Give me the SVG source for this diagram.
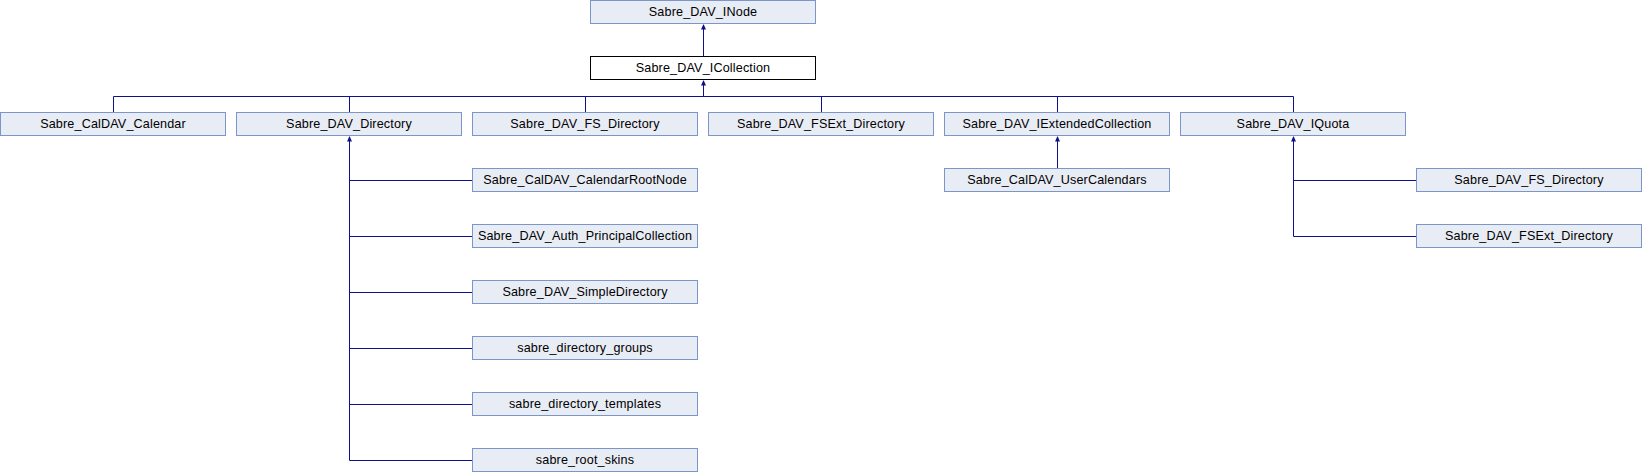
<svg xmlns="http://www.w3.org/2000/svg" xmlns:xlink="http://www.w3.org/1999/xlink" width="1642" height="472" viewBox="0 0 1642 472">
<style>
.n rect{fill:#E8ECF5;stroke:#7C96CA;stroke-width:1}
.n.cur rect{fill:#FFFFFF;stroke:#000000}
.n text{font-family:"Liberation Sans",Arial,sans-serif;font-size:12.6px;letter-spacing:0.15px;fill:#000000;text-anchor:middle}
.e path{fill:none;stroke:#10108C;stroke-width:1}
.e use{fill:#10108C;stroke:none}
</style>
<defs>
<path id="ah" d="M0,0 L-2.5,5.5 L2.5,5.5 Z"/>
</defs>
<rect width="1642" height="472" fill="#FFFFFF"/>
<g id="connectors" class="e">
<path d="M703.5,56.5 V26"/>
<use xlink:href="#ah" x="703.5" y="24"/>
<path d="M703.5,96.5 V82"/>
<use xlink:href="#ah" x="703.5" y="80"/>
<path d="M113.5,112.5 V96.5 H1293.5 V112.5"/>
<path d="M349.5,96.5 V112.5 M585.5,96.5 V112.5 M821.5,96.5 V112.5 M1057.5,96.5 V112.5"/>
<path d="M349.5,138 V460.5 H472.5 M349.5,180.5 H472.5 M349.5,236.5 H472.5 M349.5,292.5 H472.5 M349.5,348.5 H472.5 M349.5,404.5 H472.5"/>
<use xlink:href="#ah" x="349.5" y="136"/>
<path d="M1057.5,168.5 V138"/>
<use xlink:href="#ah" x="1057.5" y="136"/>
<path d="M1293.5,138 V236.5 H1416.5 M1293.5,180.5 H1416.5"/>
<use xlink:href="#ah" x="1293.5" y="136"/>
</g>
<g id="n_inode" class="n"><rect x="590.5" y="0.5" width="225" height="23"/><text x="703" y="16">Sabre_DAV_INode</text></g>
<g id="n_icollection" class="n cur"><rect x="590.5" y="56.5" width="225" height="23"/><text x="703" y="72">Sabre_DAV_ICollection</text></g>
<g id="n_caldav_calendar" class="n"><rect x="0.5" y="112.5" width="225" height="23"/><text x="113" y="128">Sabre_CalDAV_Calendar</text></g>
<g id="n_dav_directory" class="n"><rect x="236.5" y="112.5" width="225" height="23"/><text x="349" y="128">Sabre_DAV_Directory</text></g>
<g id="n_fs_directory" class="n"><rect x="472.5" y="112.5" width="225" height="23"/><text x="585" y="128">Sabre_DAV_FS_Directory</text></g>
<g id="n_fsext_directory" class="n"><rect x="708.5" y="112.5" width="225" height="23"/><text x="821" y="128">Sabre_DAV_FSExt_Directory</text></g>
<g id="n_iextendedcollection" class="n"><rect x="944.5" y="112.5" width="225" height="23"/><text x="1057" y="128">Sabre_DAV_IExtendedCollection</text></g>
<g id="n_iquota" class="n"><rect x="1180.5" y="112.5" width="225" height="23"/><text x="1293" y="128">Sabre_DAV_IQuota</text></g>
<g id="n_calendarrootnode" class="n"><rect x="472.5" y="168.5" width="225" height="23"/><text x="585" y="184">Sabre_CalDAV_CalendarRootNode</text></g>
<g id="n_usercalendars" class="n"><rect x="944.5" y="168.5" width="225" height="23"/><text x="1057" y="184">Sabre_CalDAV_UserCalendars</text></g>
<g id="n_iquota_fs_directory" class="n"><rect x="1416.5" y="168.5" width="225" height="23"/><text x="1529" y="184">Sabre_DAV_FS_Directory</text></g>
<g id="n_auth_principalcollection" class="n"><rect x="472.5" y="224.5" width="225" height="23"/><text x="585" y="240">Sabre_DAV_Auth_PrincipalCollection</text></g>
<g id="n_iquota_fsext_directory" class="n"><rect x="1416.5" y="224.5" width="225" height="23"/><text x="1529" y="240">Sabre_DAV_FSExt_Directory</text></g>
<g id="n_simpledirectory" class="n"><rect x="472.5" y="280.5" width="225" height="23"/><text x="585" y="296">Sabre_DAV_SimpleDirectory</text></g>
<g id="n_directory_groups" class="n"><rect x="472.5" y="336.5" width="225" height="23"/><text x="585" y="352">sabre_directory_groups</text></g>
<g id="n_directory_templates" class="n"><rect x="472.5" y="392.5" width="225" height="23"/><text x="585" y="408">sabre_directory_templates</text></g>
<g id="n_root_skins" class="n"><rect x="472.5" y="448.5" width="225" height="23"/><text x="585" y="464">sabre_root_skins</text></g>
</svg>
